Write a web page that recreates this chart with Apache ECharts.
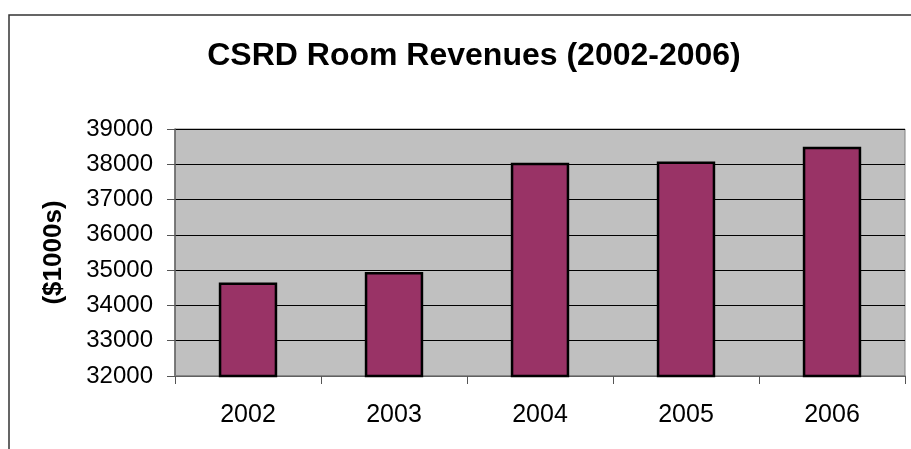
<!DOCTYPE html>
<html>
<head>
<meta charset="utf-8">
<script src="https://cdn.jsdelivr.net/npm/echarts@6/dist/echarts.min.js"></script>
<style>
  html, body { margin: 0; padding: 0; background: #fff; }
  #myChart { width: 911px; height: 449px; }
</style>
</head>
<body>
<div id="myChart"></div>
<script>
// 数据
var years = ['2002', '2003', '2004', '2005', '2006']
var revenues = [34650, 34950, 38040, 38080, 38500]
var yMin = 32000
var yMax = 39000
var yStep = 1000

var myChart = echarts.init(document.getElementById('myChart'))
myChart.setOption({
  backgroundColor: '#ffffff',
  animation: false,
  title: {
    text: 'CSRD Room Revenues (2002-2006)',
    left: 469,
    top: 35,
    textAlign: 'center',
    textStyle: {
      fontFamily: 'Liberation Sans',
      fontSize: 32,
      fontWeight: 'bold',
      color: '#000'
    }
  },
  // 外框
  graphic: [
    {
      type: 'rect',
      shape: { x: 9, y: 15, width: 1000, height: 600 },
      style: { fill: 'none', stroke: '#333', lineWidth: 1.5 },
      silent: true
    }
  ],
  grid: {
    left: 175,
    right: 6,
    top: 129,
    bottom: 73,
    show: true,
    backgroundColor: '#c0c0c0',
    borderColor: '#808080',
    borderWidth: 1
  },
  xAxis: {
    type: 'category',
    data: years,
    axisLine: { show: true, lineStyle: { color: '#808080', width: 1.5 } },
    axisTick: { show: true, length: 8, alignWithLabel: false, lineStyle: { color: '#555' } },
    axisLabel: {
      margin: 27,
      fontFamily: 'Liberation Sans',
      fontSize: 25,
      color: '#000'
    },
    splitLine: { show: false }
  },
  yAxis: {
    type: 'value',
    min: yMin,
    max: yMax,
    interval: yStep,
    name: '($1000s)',
    nameLocation: 'middle',
    nameGap: 108,
    nameRotate: 90,
    nameTextStyle: {
      fontFamily: 'Liberation Sans',
      fontSize: 26,
      fontWeight: 'bold',
      color: '#000'
    },
    axisLine: { show: true, lineStyle: { color: '#666', width: 1.5 } },
    axisTick: { show: true, length: 8, lineStyle: { color: '#555' } },
    axisLabel: {
      margin: 22,
      fontFamily: 'Liberation Sans',
      fontSize: 24,
      color: '#000',
      formatter: function (v) { return String(v) }
    },
    splitLine: { show: true, lineStyle: { color: '#000', width: 1 } }
  },
  series: [
    {
      type: 'bar',
      data: revenues,
      barWidth: '40%',
      itemStyle: {
        color: '#993366',
        borderColor: '#000',
        borderWidth: 2.5
      }
    }
  ]
})
</script>
</body>
</html>
